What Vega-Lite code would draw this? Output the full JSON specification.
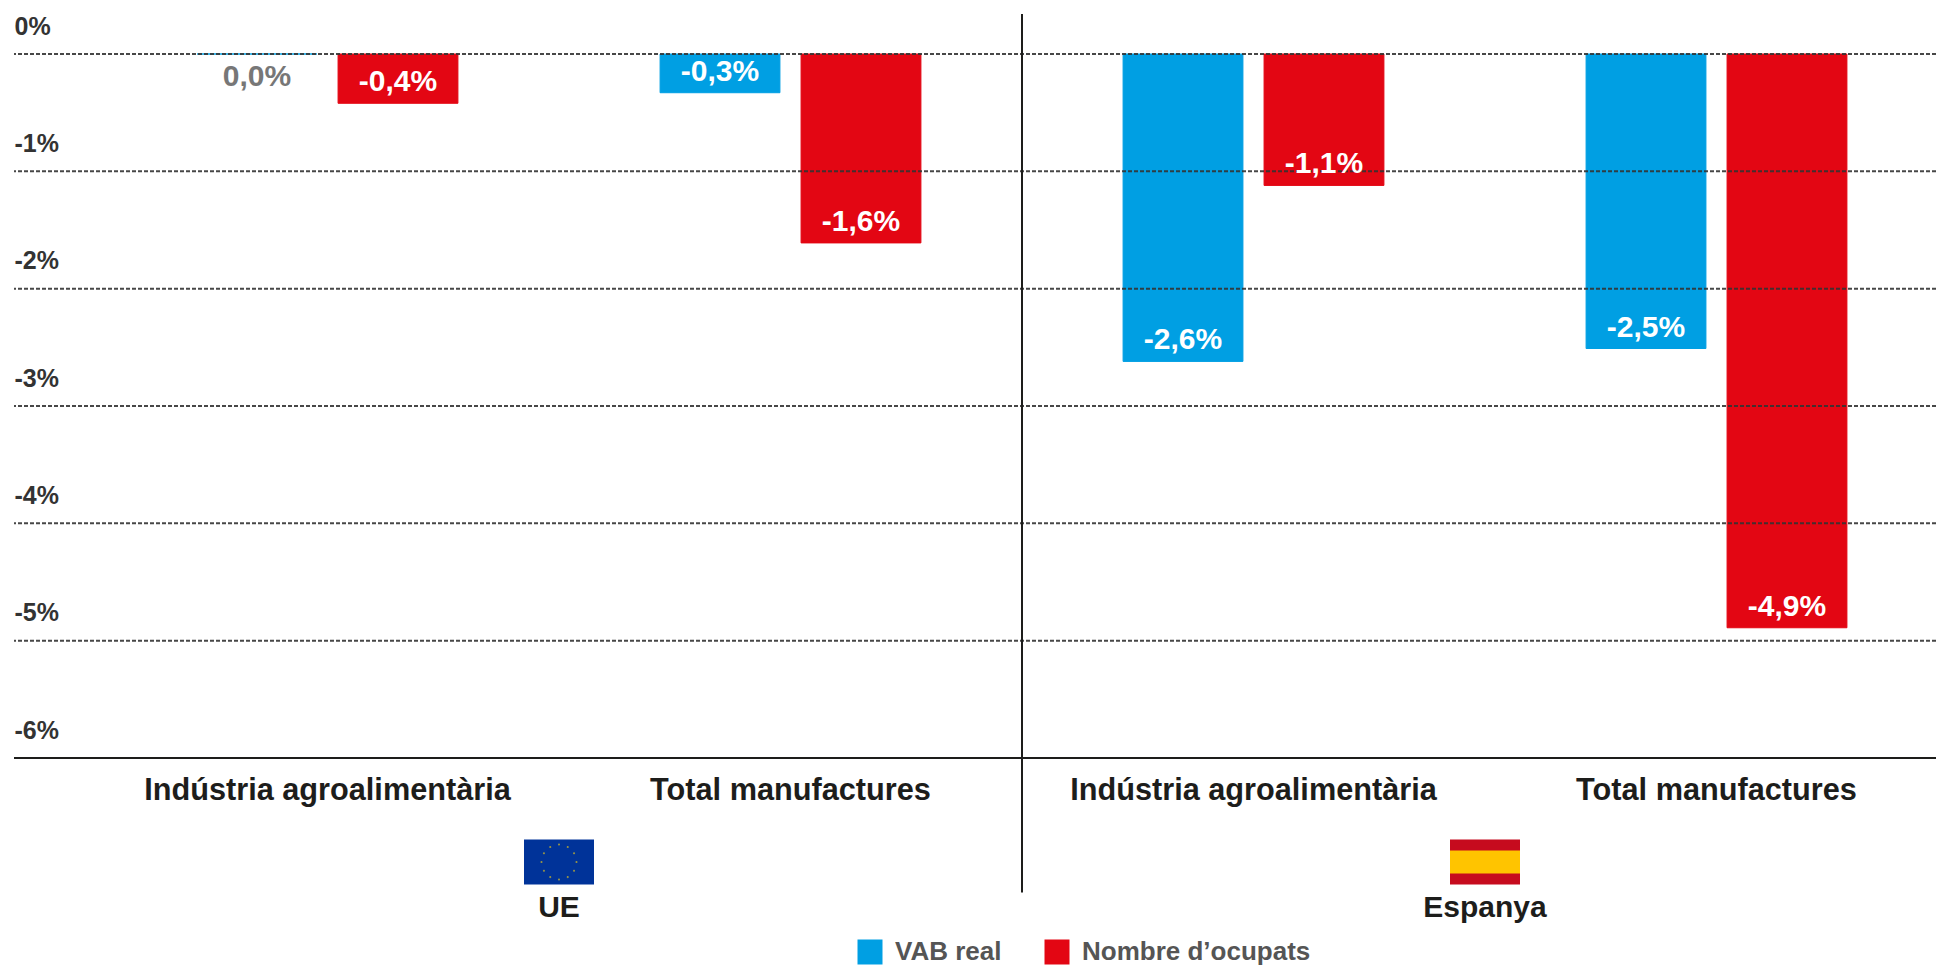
{
"$schema":"https://vega.github.io/schema/vega-lite/v6.json",
"width":1922,"height":746,
"autosize":"none",
"padding":{"left":14,"top":12,"right":0,"bottom":208},
"background":"white",
"config":{"view":{"stroke":null},"font":"Liberation Sans"},
"data":{"values":[
{"grup":"UE|Indústria agroalimentària","serie":"VAB real","valor":0,"etiqueta":"0,0%"},
{"grup":"UE|Indústria agroalimentària","serie":"Nombre d’ocupats","valor":-0.42,"etiqueta":"-0,4%"},
{"grup":"UE|Total manufactures","serie":"VAB real","valor":-0.33,"etiqueta":"-0,3%"},
{"grup":"UE|Total manufactures","serie":"Nombre d’ocupats","valor":-1.61,"etiqueta":"-1,6%"},
{"grup":"Espanya|Indústria agroalimentària","serie":"VAB real","valor":-2.62,"etiqueta":"-2,6%"},
{"grup":"Espanya|Indústria agroalimentària","serie":"Nombre d’ocupats","valor":-1.12,"etiqueta":"-1,1%"},
{"grup":"Espanya|Total manufactures","serie":"VAB real","valor":-2.51,"etiqueta":"-2,5%"},
{"grup":"Espanya|Total manufactures","serie":"Nombre d’ocupats","valor":-4.89,"etiqueta":"-4,9%"}
]},
"encoding":{
"x":{"field":"grup","type":"nominal","sort":null,
"scale":{"domain":["UE|Indústria agroalimentària","UE|Total manufactures","Espanya|Indústria agroalimentària","Espanya|Total manufactures"],"range":[82,1934],"paddingInner":0,"paddingOuter":0},
"axis":{"title":null,"ticks":false,"domain":false,"grid":false,"labelAngle":0,"labelPadding":17,"labelFontSize":30.7,"labelFontWeight":"bold","labelColor":"#1d1d1b","labelFont":"Liberation Sans","labelExpr":"split(datum.label,'|')[1]","labelLimit":500}},
"y":{"type":"quantitative","scale":{"domain":[-6,0.358],"nice":false,"zero":false},
"axis":{"title":null,"values":[0,-1,-2,-3,-4,-5,-6],"ticks":false,"domain":false,"grid":false,"labelAlign":"left","labelPadding":0,"labelOffset":-28,"labelFontSize":25,"labelFontWeight":"bold","labelColor":"#333333","labelFont":"Liberation Sans","labelExpr":"datum.value + '%'"}}
},
"layer":[
{"mark":{"type":"bar","strokeWidth":1},
"encoding":{
"xOffset":{"field":"serie","type":"nominal","sort":null,"scale":{"domain":["VAB real","Nombre d’ocupats"],"paddingInner":0.15,"paddingOuter":0.717}},
"y":{"field":"valor","type":"quantitative"},"y2":{"datum":0},
"color":{"field":"serie","type":"nominal","sort":null,"scale":{"domain":["VAB real","Nombre d’ocupats"],"range":["#009FE3","#E30613"]},
"legend":{"title":null,"orient":"none","legendX":843,"legendY":927,"direction":"horizontal","symbolType":"square","symbolSize":625,"symbolStrokeWidth":0,"symbolOpacity":1,"labelFontSize":26,"labelFontWeight":"bold","labelColor":"#555555","labelFont":"Liberation Sans","columnPadding":42,"labelOffset":12,"labelLimit":400}},
"stroke":{"field":"serie","type":"nominal","sort":null,"legend":null,"scale":{"domain":["VAB real","Nombre d’ocupats"],"range":["#009FE3","#E30613"]}}
}},
{"data":{"values":[{"nivell":0},{"nivell":-1},{"nivell":-2},{"nivell":-3},{"nivell":-4},{"nivell":-5}]},
"mark":{"type":"rule","color":"#333333","strokeWidth":2,"strokeDash":[4,2],"opacity":0.9},
"encoding":{"x":null,"y":{"field":"nivell","type":"quantitative"}}},
{"mark":{"type":"text","fontSize":30,"fontWeight":"bold","baseline":"middle","align":"center"},
"transform":[{"filter":"datum.valor < 0"}],
"encoding":{
"xOffset":{"field":"serie","type":"nominal","sort":null},
"y":{"field":"valor","type":"quantitative"},
"yOffset":{"value":-21},
"text":{"field":"etiqueta"},
"color":{"value":"white"}
}},
{"mark":{"type":"text","fontSize":30,"fontWeight":"bold","baseline":"middle","align":"center","color":"#777777"},
"transform":[{"filter":"datum.valor === 0"}],
"encoding":{
"xOffset":{"field":"serie","type":"nominal","sort":null},
"y":{"field":"valor","type":"quantitative"},
"yOffset":{"value":23},
"text":{"field":"etiqueta"}
}},
{"data":{"values":[{}]},"mark":{"type":"rule","color":"#1d1d1b","strokeWidth":2.2},"encoding":{"x":null,"y":{"datum":-6}}},
{"data":{"values":[{}]},"mark":{"type":"rule","color":"#1d1d1b","strokeWidth":2},"encoding":{"x":{"datum":"UE|Total manufactures","bandPosition":1},"y":{"datum":0.34},"y2":{"datum":-7.147}}},
{"data":{"values":[{}]},"mark":{"type":"point","filled":true,"opacity":1,"size":4900,"color":"#003399","shape":"M-1,-0.643L1,-0.643L1,0.643L-1,0.643Z"},"encoding":{"x":{"datum":"UE|Indústria agroalimentària","bandPosition":1},"y":{"datum":-6.887}}},
{"data":{"values":[{}]},"mark":{"type":"point","filled":true,"opacity":1,"size":4900,"color":"#8F8F4A","shape":"M0.03,-0.5a0.03,0.03 0 1,0 -0.06,0a0.03,0.03 0 1,0 0.06,0Z M0.28,-0.43a0.03,0.03 0 1,0 -0.06,0a0.03,0.03 0 1,0 0.06,0Z M0.46,-0.25a0.03,0.03 0 1,0 -0.06,0a0.03,0.03 0 1,0 0.06,0Z M0.53,0a0.03,0.03 0 1,0 -0.06,0a0.03,0.03 0 1,0 0.06,0Z M0.46,0.25a0.03,0.03 0 1,0 -0.06,0a0.03,0.03 0 1,0 0.06,0Z M0.28,0.43a0.03,0.03 0 1,0 -0.06,0a0.03,0.03 0 1,0 0.06,0Z M0.03,0.5a0.03,0.03 0 1,0 -0.06,0a0.03,0.03 0 1,0 0.06,0Z M-0.22,0.43a0.03,0.03 0 1,0 -0.06,0a0.03,0.03 0 1,0 0.06,0Z M-0.4,0.25a0.03,0.03 0 1,0 -0.06,0a0.03,0.03 0 1,0 0.06,0Z M-0.47,0a0.03,0.03 0 1,0 -0.06,0a0.03,0.03 0 1,0 0.06,0Z M-0.4,-0.25a0.03,0.03 0 1,0 -0.06,0a0.03,0.03 0 1,0 0.06,0Z M-0.22,-0.43a0.03,0.03 0 1,0 -0.06,0a0.03,0.03 0 1,0 0.06,0Z"},"encoding":{"x":{"datum":"UE|Indústria agroalimentària","bandPosition":1},"y":{"datum":-6.887}}},
{"data":{"values":[{}]},"mark":{"type":"point","filled":true,"opacity":1,"size":4900,"color":"#C60B1E","shape":"M-1,-0.643L1,-0.643L1,0.643L-1,0.643Z"},"encoding":{"x":{"datum":"Espanya|Indústria agroalimentària","bandPosition":1},"y":{"datum":-6.887}}},
{"data":{"values":[{}]},"mark":{"type":"point","filled":true,"opacity":1,"size":4900,"color":"#FFC400","shape":"M-1,-0.33L1,-0.33L1,0.33L-1,0.33Z"},"encoding":{"x":{"datum":"Espanya|Indústria agroalimentària","bandPosition":1},"y":{"datum":-6.887}}},
{"data":{"values":[{}]},"mark":{"type":"text","fontSize":30,"fontWeight":"bold","baseline":"middle","color":"#1d1d1b","text":"UE"},"encoding":{"x":{"datum":"UE|Indústria agroalimentària","bandPosition":1},"y":{"datum":-7.28}}},
{"data":{"values":[{}]},"mark":{"type":"text","fontSize":30,"fontWeight":"bold","baseline":"middle","color":"#1d1d1b","text":"Espanya"},"encoding":{"x":{"datum":"Espanya|Indústria agroalimentària","bandPosition":1},"y":{"datum":-7.28}}}
]
}
